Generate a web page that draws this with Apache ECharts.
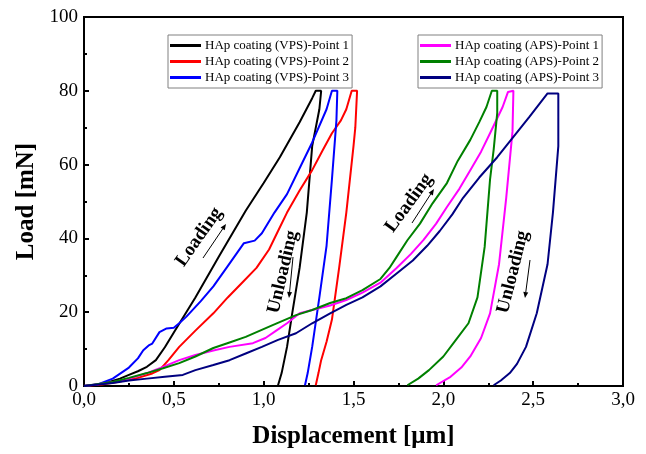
<!DOCTYPE html>
<html>
<head>
<meta charset="utf-8">
<script src="https://cdn.jsdelivr.net/npm/echarts@6/dist/echarts.min.js"></script>
<style>
  html, body { margin: 0; padding: 0; background: #fff; }
  #chart { width: 646px; height: 454px; }
</style>
</head>
<body>
<div id="chart"></div>
<script>
// load-displacement data, [displacement um, load mN]
var vps1 = [[0,0],[0.08,0.4],[0.14,1.1],[0.2,2],[0.25,3],[0.3,4],[0.35,5.2],[0.4,7],[0.45,10.5],[0.5,14.5],
    [0.62,24],[0.75,35],[0.9,47.5],[1.0,55],[1.09,62],[1.2,71.5],[1.27,78],[1.29,80],[1.32,80],
    [1.31,75],[1.27,65],[1.24,47],[1.2,32],[1.16,20],[1.13,10.6],[1.1,3.5],[1.08,0.2]];
var vps2 = [[0,0],[0.1,0.4],[0.2,1.2],[0.3,2.2],[0.38,3.4],[0.42,4.3],[0.47,7],[0.53,10.6],[0.62,15],[0.72,19.7],
    [0.8,24],[0.88,28],[0.96,32],[1.03,37],[1.08,42],[1.13,47],[1.2,53],[1.27,58.5],[1.33,64],[1.38,68.5],
    [1.43,72],[1.46,75],[1.49,80],[1.52,80],
    [1.51,70],[1.5,65],[1.46,47],[1.42,32],[1.38,18],[1.35,12],[1.32,7],[1.305,3.5],[1.29,0.2]];
var vps3 = [[0,0],[0.08,0.5],[0.16,2],[0.25,5],[0.3,7.5],[0.33,9.7],[0.36,11],[0.38,11.5],[0.42,14.6],[0.46,15.6],
    [0.5,15.8],[0.53,17],[0.57,18.8],[0.65,23],[0.72,27],[0.8,32.5],[0.89,38.7],[0.95,39.4],[0.99,41.4],
    [1.06,47],[1.13,52],[1.2,59],[1.27,66],[1.35,75],[1.38,80],[1.41,80],
    [1.405,72],[1.38,56],[1.35,38],[1.31,24],[1.27,10.6],[1.245,3.5],[1.23,0.2]];
var aps1 = [[0,0],[0.16,1],[0.25,2],[0.35,3.5],[0.44,5.2],[0.53,7],[0.62,8.4],[0.72,9.6],[0.81,10.6],[0.94,11.6],
    [1.01,13],[1.07,15],[1.13,17],[1.2,19.7],[1.27,20.6],[1.37,21.8],[1.46,23.3],[1.55,25.3],[1.65,28],
    [1.74,32],[1.82,35.8],[1.89,39.6],[1.96,44],[2.02,48.5],[2.09,53.5],[2.15,58.5],[2.21,63.5],[2.26,68.5],
    [2.33,75.6],[2.36,79.7],[2.39,80],
    [2.385,69],[2.35,51],[2.31,33],[2.26,19.7],[2.21,13],[2.15,8],[2.1,5],[2.04,2.5],[1.96,0.2]];
var aps2 = [[0,0],[0.16,1.1],[0.25,2.2],[0.35,3.5],[0.44,4.8],[0.53,6.2],[0.62,8],[0.72,10.3],[0.81,11.8],[0.9,13.3],
    [1.05,16.5],[1.18,19.2],[1.27,20.6],[1.37,22.5],[1.46,23.8],[1.55,26],[1.65,29],[1.7,32],[1.74,35],
    [1.8,39.5],[1.87,44],[1.94,49.5],[2.02,55],[2.08,61],[2.15,66.7],[2.2,71.5],[2.24,75.6],[2.27,80],[2.3,80],
    [2.3,74],[2.28,64],[2.26,56],[2.23,37.7],[2.19,24],[2.14,17],[2.07,12.5],[2.0,8],[1.92,4.3],[1.86,2],[1.8,0.2]];
var aps3 = [[0,0],[0.16,0.8],[0.25,1.5],[0.35,2],[0.45,2.5],[0.55,3],[0.62,4.3],[0.72,5.7],[0.81,7],[0.9,8.8],
    [0.99,10.6],[1.08,12.5],[1.18,14.3],[1.27,17],[1.37,19.7],[1.46,22],[1.55,24],[1.65,27],[1.74,30.5],
    [1.83,34],[1.91,38],[1.98,42],[2.05,46.5],[2.11,51],[2.2,56.5],[2.3,62],[2.39,67.5],[2.48,73],[2.58,79.3],[2.64,79.3],
    [2.64,65],[2.61,47],[2.58,33],[2.52,19.7],[2.46,10.6],[2.41,6],[2.37,3.5],[2.32,1.5],[2.28,0.2]];

var vpsNames = ['HAp coating (VPS)-Point 1', 'HAp coating (VPS)-Point 2', 'HAp coating (VPS)-Point 3'];
var apsNames = ['HAp coating (APS)-Point 1', 'HAp coating (APS)-Point 2', 'HAp coating (APS)-Point 3'];
var xTicks = [0, 0.5, 1, 1.5, 2, 2.5, 3];
var yTicks = [0, 20, 40, 60, 80, 100];

var serif = 'Liberation Serif, Times New Roman, serif';

var curves = [
    {name: vpsNames[0], data: vps1, color: '#000000'},
    {name: vpsNames[1], data: vps2, color: '#ff0000'},
    {name: vpsNames[2], data: vps3, color: '#0000ff'},
    {name: apsNames[0], data: aps1, color: '#ff00ff'},
    {name: apsNames[1], data: aps2, color: '#008000'},
    {name: apsNames[2], data: aps3, color: '#000080'}
];

var series = curves.map(function(c){
    return {
        name: c.name, type: 'line', data: c.data, showSymbol: false, symbol: 'none',
        lineStyle: {color: c.color, width: 2}, itemStyle: {color: c.color}, z: 3
    };
});

function legendBox(names, left){
    return {
        data: names, orient: 'vertical', left: left, top: 35,
        icon: 'rect', itemWidth: 31, itemHeight: 3, itemGap: 3,
        padding: [4, 3, 4, 2], borderColor: '#808080', borderWidth: 1,
        selectedMode: false, backgroundColor: '#fff',
        textStyle: {fontFamily: serif, fontSize: 13, color: '#000', padding: [0, 0, 0, -1]}
    };
}

// little arrow next to the annotations
function arrow(x1, y1, x2, y2){
    var a = Math.atan2(y2 - y1, x2 - x1), h = 6, w = 2.5;
    var bx = x2 - h * Math.cos(a), by = y2 - h * Math.sin(a);
    return [
        {type: 'line', shape: {x1: x1, y1: y1, x2: bx, y2: by}, style: {stroke: '#000', lineWidth: 1}, z: 10},
        {type: 'polygon', shape: {points: [[x2, y2],
            [bx + w * Math.sin(a), by - w * Math.cos(a)],
            [bx - w * Math.sin(a), by + w * Math.cos(a)]]}, style: {fill: '#000'}, z: 10}
    ];
}

function label(text, x, y, deg){
    return {type: 'text', x: x, y: y, rotation: deg * Math.PI / 180, z: 10,
        style: {text: text, font: 'bold 19px ' + serif, fill: '#000', align: 'center', verticalAlign: 'middle'}};
}

var graphics = [
    label('Loading', 199, 237, 55),
    label('Unloading', 283, 272, 77),
    label('Loading', 409, 203, 54),
    label('Unloading', 513, 272, 76)
].concat(arrow(203, 258, 226, 224), arrow(293, 257, 289, 298),
    arrow(412, 223, 434, 189), arrow(530, 260, 525, 298));

var chart = echarts.init(document.getElementById('chart'));
chart.setOption({
    animation: false,
    backgroundColor: '#fff',
    grid: {left: 84, right: 23, top: 17, bottom: 68, show: true, borderColor: '#000', borderWidth: 2, backgroundColor: 'transparent'},
    legend: [legendBox(vpsNames, 168), legendBox(apsNames, 418)],
    xAxis: {
        type: 'value', min: xTicks[0], max: xTicks[xTicks.length - 1], interval: 0.5,
        name: 'Displacement [μm]', nameLocation: 'middle', nameGap: 38,
        nameTextStyle: {fontFamily: serif, fontWeight: 'bold', fontSize: 25, color: '#000'},
        axisLine: {lineStyle: {color: '#000', width: 2}},
        axisTick: {inside: true, length: 5, lineStyle: {color: '#000', width: 2}},
        minorTick: {show: true, splitNumber: 2, length: 3, lineStyle: {color: '#000', width: 2}},
        splitLine: {show: false},
        axisLabel: {fontFamily: serif, fontSize: 19, color: '#000', margin: 5,
            formatter: function(v){ return v.toFixed(1).replace('.', ','); }}
    },
    yAxis: {
        type: 'value', min: yTicks[0], max: yTicks[yTicks.length - 1], interval: 20,
        name: 'Load [mN]', nameLocation: 'middle', nameGap: 40,
        nameTextStyle: {fontFamily: serif, fontWeight: 'bold', fontSize: 25, color: '#000'},
        axisLine: {lineStyle: {color: '#000', width: 2}},
        axisTick: {inside: true, length: 5, lineStyle: {color: '#000', width: 2}},
        minorTick: {show: true, splitNumber: 2, length: 3, lineStyle: {color: '#000', width: 2}},
        splitLine: {show: false},
        axisLabel: {fontFamily: serif, fontSize: 19, color: '#000', margin: 6}
    },
    graphic: graphics,
    series: series
});
</script>
</body>
</html>
